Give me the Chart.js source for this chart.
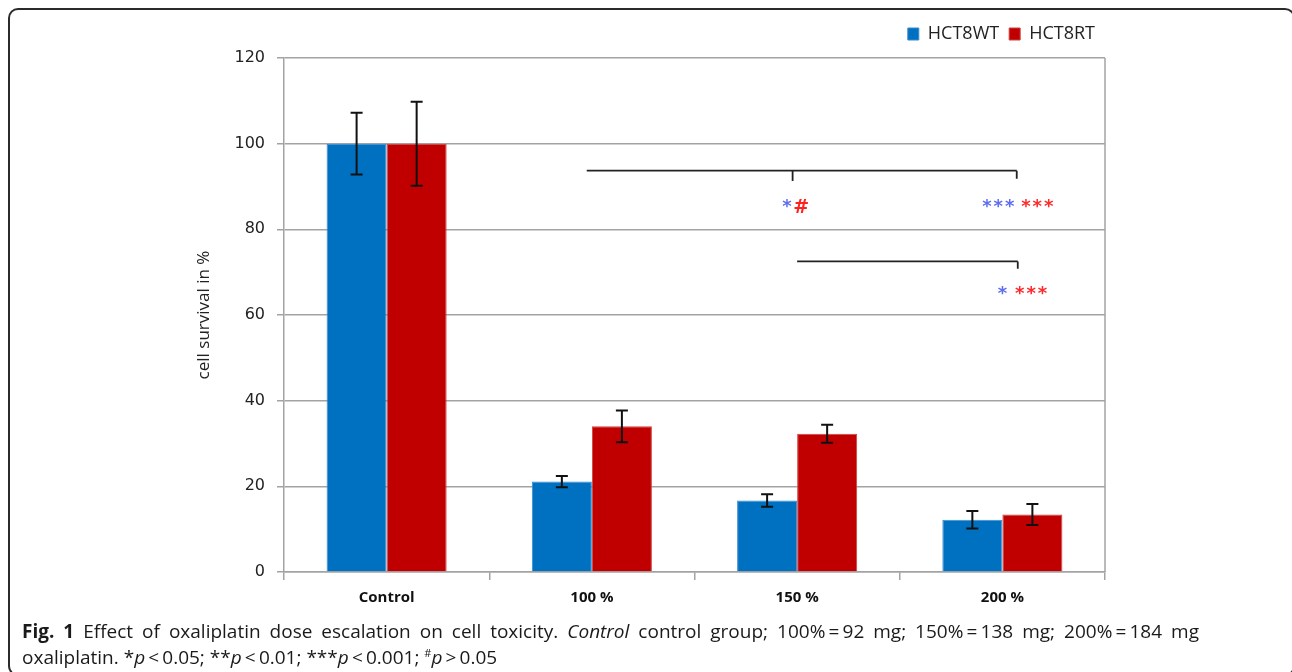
<!DOCTYPE html>
<html lang="en">
<head>
<meta charset="UTF-8">
<title>Fig. 1 - oxaliplatin dose escalation</title>
<script src="https://cdn.jsdelivr.net/npm/chart.js@4.4.1/dist/chart.umd.min.js"></script>
<style>
  body {
    margin: 0;
    width: 1292px;
    height: 672px;
    overflow: hidden;
    position: relative;
    background: #fff;
    font-family: 'Open Sans', sans-serif;
  }
  #frame {
    position: absolute;
    left: 8px;
    top: 8px;
    width: 1287px;
    height: 668px;
    border: 2px solid #2b2b2b;
    border-radius: 10px;
    box-sizing: border-box;
  }
  #chart {
    position: absolute;
    left: 0;
    top: 0;
  }
  .caption {
    position: absolute;
    left: 22px;
    font-size: 19px;
    color: #1a1a1a;
    white-space: nowrap;
  }
  #cap1 {
    top: 618px;
    width: 1177px;
    white-space: normal;
    text-align: justify;
    text-align-last: justify;
  }
  #cap2 { top: 644px; }
  .caption b { font-weight: 700; }
</style>
</head>
<body>
<div id="frame"></div>
<canvas id="chart" width="1292" height="672"></canvas>
<div class="caption" id="cap1"><b>Fig. 1</b> Effect of oxaliplatin dose escalation on cell toxicity. <i>Control</i> control group; 100%&thinsp;=&thinsp;92 mg; 150%&thinsp;=&thinsp;138 mg; 200%&thinsp;=&thinsp;184 mg</div>
<div class="caption" id="cap2">oxaliplatin. *<i>p</i>&thinsp;&lt;&thinsp;0.05; **<i>p</i>&thinsp;&lt;&thinsp;0.01; ***<i>p</i>&thinsp;&lt;&thinsp;0.001; <sup style="font-size:11px">#</sup><i>p</i>&thinsp;&gt;&thinsp;0.05</div>

<script>
// values
const categories = ['Control', '100 %', '150 %', '200 %'];
const wtValues = [100, 21.1, 16.7, 12.2];
const wtErrors = [7.2, 1.3, 1.45, 2.05];
const rtValues = [100, 34.0, 32.3, 13.45];
const rtErrors = [9.8, 3.7, 2.1, 2.45];

// significance brackets, in category index / y value units
const bracketLines = [
    {x1: 0.975, x2: 3.07, y: 93.7, drops: [[1.978, 91.3], [3.07, 91.8]]},
    {x1: 2.0, x2: 3.075, y: 72.5, drops: [[3.075, 70.8]]}
];
const bracketMarks = [
    {x: 1.95, y: 86.7, text: '*', series: 'wt'},
    {x: 2.02, y: 85.5, text: '#', series: 'rt'},
    {x: 2.98, y: 86.7, text: '***', series: 'wt'},
    {x: 3.17, y: 86.7, text: '***', series: 'rt'},
    {x: 3.0, y: 66.2, text: '*', series: 'wt'},
    {x: 3.14, y: 66.2, text: '***', series: 'rt'}
];

const BLUE = '#0070c0';
const RED = '#c00000';
const GRID = '#a3a3a3';

// a bit more room under the legend
const legendSpace = {
    id: 'legendSpace',
    afterInit(chart) {
        const lg = chart.legend;
        if (!lg) return;
        const fit = lg.fit;
        lg.fit = function () {
            fit.call(this);
            this.height += 5;
        };
    }
};

const errorBars = {
    id: 'errorBars',
    afterDatasetsDraw(chart) {
        const ctx = chart.ctx;
        const y = chart.scales.y;
        const x = chart.scales.x;
        const area = chart.chartArea;
        ctx.save();

        // right frame of the plot
        ctx.strokeStyle = GRID;
        ctx.lineWidth = 1.5;
        ctx.beginPath();
        ctx.moveTo(area.right, area.top);
        ctx.lineTo(area.right, area.bottom);
        ctx.stroke();

        // error bars
        ctx.strokeStyle = '#111';
        ctx.lineWidth = 2;
        chart.data.datasets.forEach((ds, i) => {
            const meta = chart.getDatasetMeta(i);
            meta.data.forEach((bar, j) => {
                const v = ds.data[j], e = ds.errors[j];
                const top = y.getPixelForValue(v + e);
                const bot = y.getPixelForValue(v - e);
                ctx.beginPath();
                ctx.moveTo(bar.x, top); ctx.lineTo(bar.x, bot);
                ctx.moveTo(bar.x - 6, top); ctx.lineTo(bar.x + 6, top);
                ctx.moveTo(bar.x - 6, bot); ctx.lineTo(bar.x + 6, bot);
                ctx.stroke();
            });
        });

        // brackets
        ctx.strokeStyle = '#222';
        ctx.lineWidth = 1.8;
        bracketLines.forEach(b => {
            const py = y.getPixelForValue(b.y);
            ctx.beginPath();
            ctx.moveTo(x.getPixelForValue(b.x1), py);
            ctx.lineTo(x.getPixelForValue(b.x2), py);
            b.drops.forEach(d => {
                const px = x.getPixelForValue(d[0]);
                ctx.moveTo(px, py);
                ctx.lineTo(px, y.getPixelForValue(d[1]));
            });
            ctx.stroke();
        });

        // significance marks
        ctx.textAlign = 'center';
        ctx.textBaseline = 'alphabetic';
        bracketMarks.forEach(m => {
            const px = x.getPixelForValue(m.x);
            const py = y.getPixelForValue(m.y);
            if (m.text === '#') {
                ctx.font = 'bold 19px "DejaVu Sans"';
                ctx.letterSpacing = '0px';
                ctx.fillStyle = '#ff2020';
                ctx.fillText(m.text, px, py + 7);
            } else {
                ctx.font = 'bold 18px "DejaVu Sans"';
                ctx.letterSpacing = '2px';
                ctx.fillStyle = m.series === 'wt' ? '#5f6ef0' : '#ff2a2a';
                ctx.fillText(m.text, px + 1, py + 11);
            }
        });
        ctx.restore();
    }
};

new Chart(document.getElementById('chart'), {
    type: 'bar',
    data: {
        labels: categories,
        datasets: [
            {label: 'HCT8WT', data: wtValues, errors: wtErrors, backgroundColor: BLUE,
             borderColor: '#3a8ad0', borderWidth: 1},
            {label: 'HCT8RT', data: rtValues, errors: rtErrors, backgroundColor: RED,
             borderColor: '#d04040', borderWidth: 1}
        ]
    },
    options: {
        responsive: false,
        animation: false,
        devicePixelRatio: 1,
        layout: {padding: {left: 190, right: 187, top: 15, bottom: 60}},
        datasets: {bar: {categoryPercentage: 0.585, barPercentage: 1.0}},
        plugins: {
            tooltip: {enabled: false},
            legend: {
                position: 'top',
                align: 'end',
                labels: {
                    boxWidth: 11,
                    boxHeight: 12,
                    padding: 10,
                    color: '#222',
                    font: {family: '"Open Sans"', size: 18}
                }
            }
        },
        scales: {
            x: {
                afterFit(scale) { scale.height = 40; },
                grid: {offset: true, drawOnChartArea: false, drawTicks: true, tickLength: 8,
                       color: GRID, lineWidth: 1.5},
                border: {display: true, color: GRID, width: 1.5},
                ticks: {color: '#111', padding: 9, font: {family: '"Open Sans"', size: 15, weight: 'bold'}}
            },
            y: {
                min: 0,
                max: 120,
                afterFit(scale) { scale.width = 94; },
                ticks: {stepSize: 20, color: '#222', padding: 12, font: {family: '"DejaVu Sans"', size: 16}},
                grid: {color: GRID, lineWidth: 1.5, tickLength: 7},
                border: {display: true, color: GRID, width: 1.5},
                title: {display: true, text: 'cell survival in %', color: '#222',
                        font: {family: '"Open Sans"', size: 17}, padding: 4}
            }
        }
    },
    plugins: [legendSpace, errorBars]
});
</script>
</body>
</html>
